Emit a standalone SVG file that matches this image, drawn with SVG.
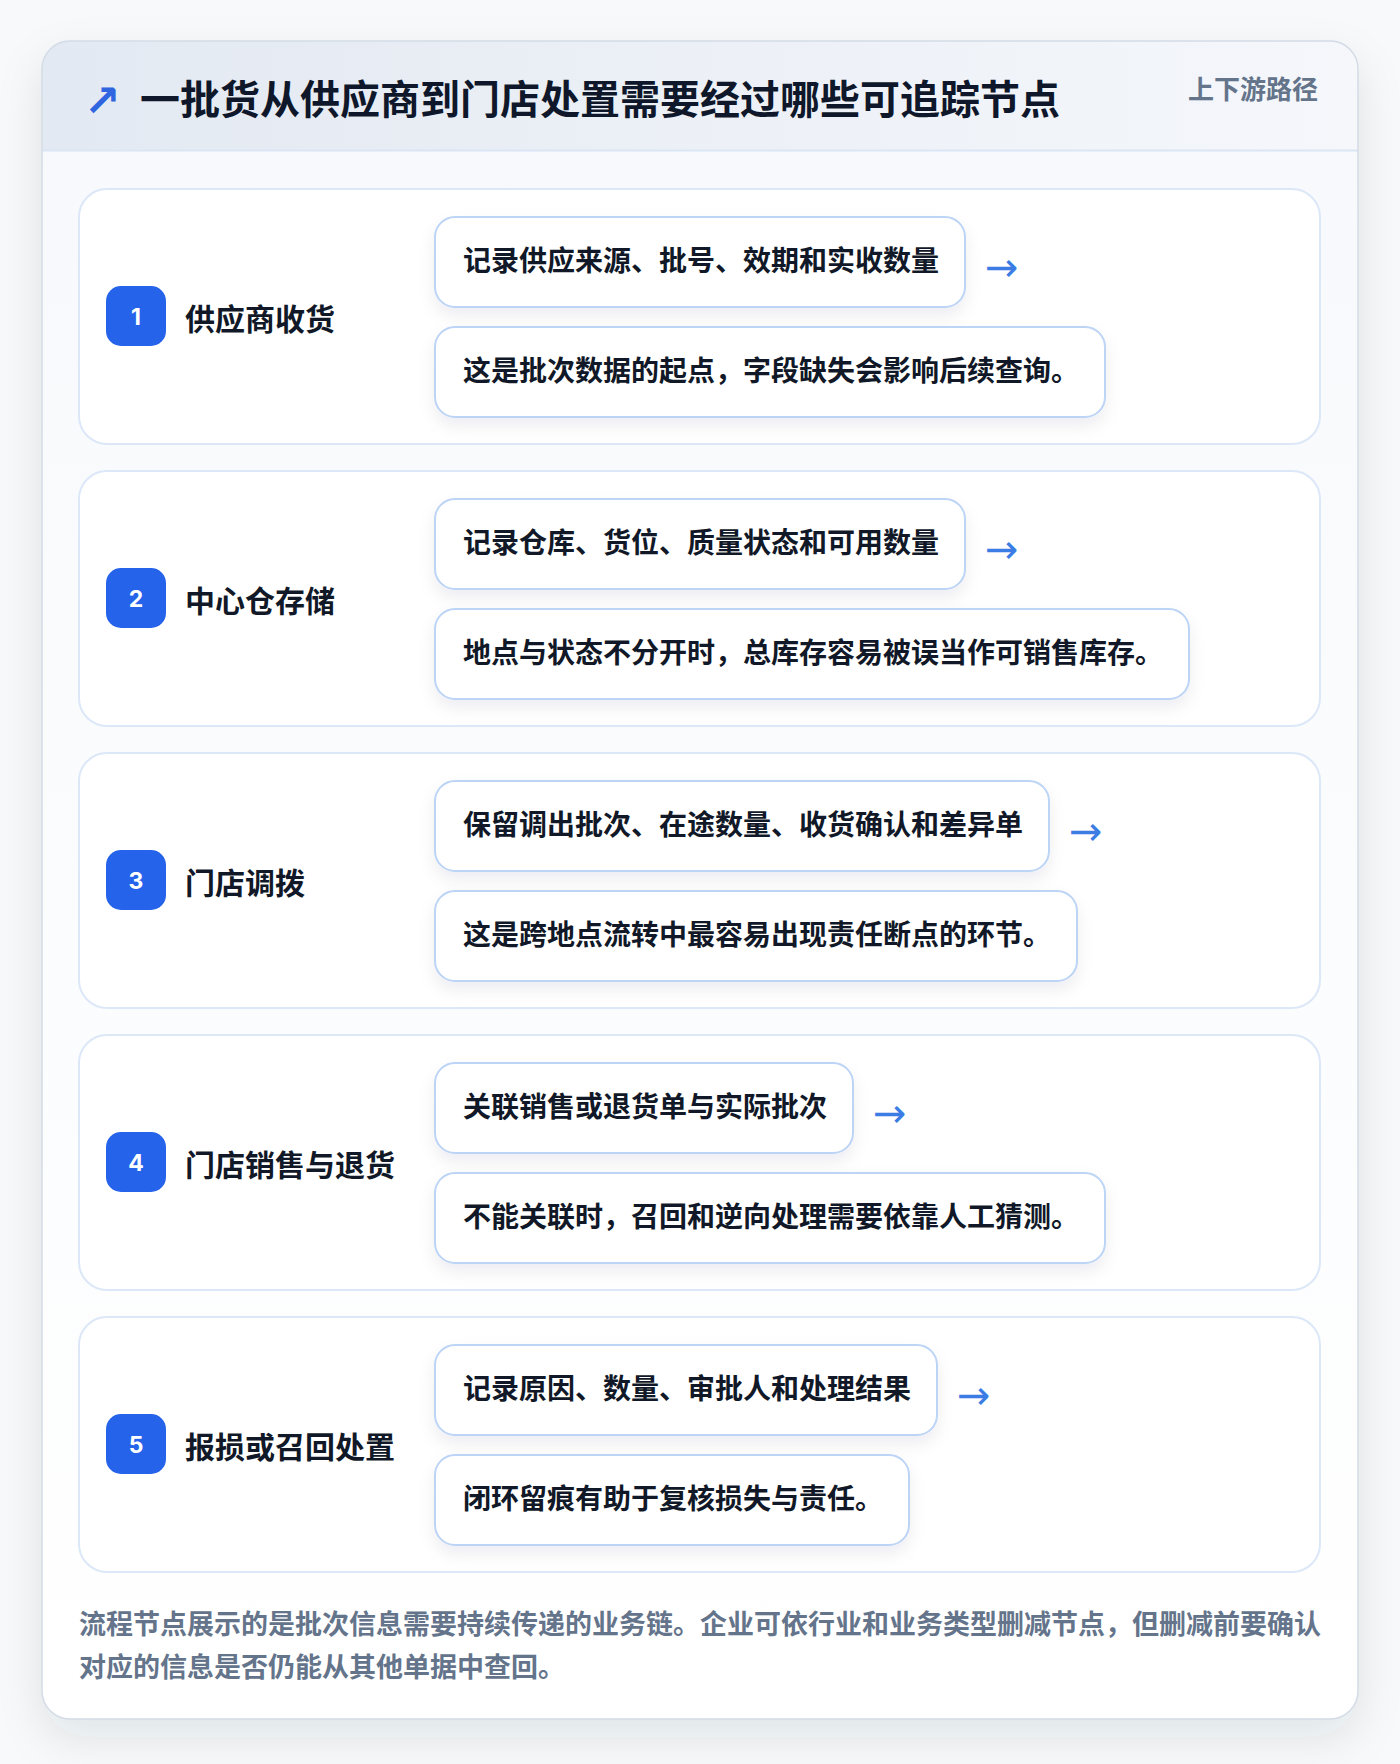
<svg xmlns="http://www.w3.org/2000/svg" width="1400" height="1764" viewBox="0 0 1400 1764">
<defs>
<style>
.t{font-family:"Noto Sans CJK SC","Noto Sans",sans-serif;font-weight:700}
.title{font-size:40px;fill:#0f172a}
.tag{font-size:26px;fill:#64748b}
.card{fill:#ffffff;stroke:#dce8f8;stroke-width:2}
.badge{fill:#2563eb}
.num{font-family:"Inter","Liberation Sans",sans-serif;font-weight:700;font-size:23px;fill:#ffffff}
.label{font-size:30px;fill:#111827}
.box{fill:#ffffff;stroke:#bcd4f5;stroke-width:2}
.btext{font-size:28px;fill:#111827}
.arrow{font-family:"DejaVu Sans",sans-serif;font-size:40px;fill:#3b7de4}
.foot{font-size:27px;fill:#64748b}
</style>
<linearGradient id="hdr" x1="0" y1="0" x2="1" y2="0">
<stop offset="0" stop-color="#e3e9f2"/>
<stop offset="1" stop-color="#f5f7fb"/>
</linearGradient>
<linearGradient id="body" x1="0" y1="0" x2="0" y2="1">
<stop offset="0" stop-color="#f7f9fc"/>
<stop offset="1" stop-color="#ffffff"/>
</linearGradient>
<clipPath id="cardclip"><rect x="42" y="41" width="1316" height="1678" rx="28"/></clipPath>
<filter id="sh" x="-10%" y="-10%" width="120%" height="120%">
<feDropShadow dx="0" dy="18" stdDeviation="22" flood-color="#1e293b" flood-opacity="0.10"/>
</filter>
<filter id="bsh" x="-10%" y="-20%" width="120%" height="160%">
<feDropShadow dx="0" dy="8" stdDeviation="8" flood-color="#1e293b" flood-opacity="0.07"/>
</filter>
</defs>
<rect x="0" y="0" width="1400" height="1764" fill="#f8f9fb"/>
<g id="frame">
<rect x="42" y="41" width="1316" height="1678" rx="28" fill="#ffffff" filter="url(#sh)"/>
<g clip-path="url(#cardclip)">
<rect x="42" y="151" width="1316" height="1568" fill="url(#body)"/>
<rect x="42" y="41" width="1316" height="110" fill="url(#hdr)"/>
<line x1="42" y1="150.5" x2="1358" y2="150.5" stroke="#dbe6f5" stroke-width="2"/>
</g>
<rect x="42" y="41" width="1316" height="1678" rx="28" fill="none" stroke="#d3dbe6" stroke-width="1.5"/>
</g>
<g id="header">
<text x="84" y="116" style="font-family:'DejaVu Sans',sans-serif;font-size:44px;font-weight:700;fill:#2f66e0">↗</text>
<text class="t title" x="140" y="114">一批货从供应商到门店处置需要经过哪些可追踪节点</text>
<text class="t tag" x="1318" y="99" text-anchor="end">上下游路径</text>
</g>
<g id="step1">
<rect class="card" x="79" y="189" width="1241" height="255" rx="28"/>
<rect class="badge" x="106" y="286" width="60" height="60" rx="15"/>
<text class="num" x="136" y="325" text-anchor="middle">1</text>
<text class="t label" x="185" y="330">供应商收货</text>
<rect class="box" x="435" y="217" width="530" height="90" rx="20" filter="url(#bsh)"/>
<text class="t btext" x="463" y="271">记录供应来源、批号、效期和实收数量</text>
<rect class="box" x="435" y="327" width="670" height="90" rx="20" filter="url(#bsh)"/>
<text class="t btext" x="463" y="381">这是批次数据的起点，字段缺失会影响后续查询。</text>
</g>
<g id="step2">
<rect class="card" x="79" y="471" width="1241" height="255" rx="28"/>
<rect class="badge" x="106" y="568" width="60" height="60" rx="15"/>
<text class="num" x="136" y="607" text-anchor="middle">2</text>
<text class="t label" x="185" y="612">中心仓存储</text>
<rect class="box" x="435" y="499" width="530" height="90" rx="20" filter="url(#bsh)"/>
<text class="t btext" x="463" y="553">记录仓库、货位、质量状态和可用数量</text>
<rect class="box" x="435" y="609" width="754" height="90" rx="20" filter="url(#bsh)"/>
<text class="t btext" x="463" y="663">地点与状态不分开时，总库存容易被误当作可销售库存。</text>
</g>
<g id="step3">
<rect class="card" x="79" y="753" width="1241" height="255" rx="28"/>
<rect class="badge" x="106" y="850" width="60" height="60" rx="15"/>
<text class="num" x="136" y="889" text-anchor="middle">3</text>
<text class="t label" x="185" y="894">门店调拨</text>
<rect class="box" x="435" y="781" width="614" height="90" rx="20" filter="url(#bsh)"/>
<text class="t btext" x="463" y="835">保留调出批次、在途数量、收货确认和差异单</text>
<rect class="box" x="435" y="891" width="642" height="90" rx="20" filter="url(#bsh)"/>
<text class="t btext" x="463" y="945">这是跨地点流转中最容易出现责任断点的环节。</text>
</g>
<g id="step4">
<rect class="card" x="79" y="1035" width="1241" height="255" rx="28"/>
<rect class="badge" x="106" y="1132" width="60" height="60" rx="15"/>
<text class="num" x="136" y="1171" text-anchor="middle">4</text>
<text class="t label" x="185" y="1176">门店销售与退货</text>
<rect class="box" x="435" y="1063" width="418" height="90" rx="20" filter="url(#bsh)"/>
<text class="t btext" x="463" y="1117">关联销售或退货单与实际批次</text>
<rect class="box" x="435" y="1173" width="670" height="90" rx="20" filter="url(#bsh)"/>
<text class="t btext" x="463" y="1227">不能关联时，召回和逆向处理需要依靠人工猜测。</text>
</g>
<g id="step5">
<rect class="card" x="79" y="1317" width="1241" height="255" rx="28"/>
<rect class="badge" x="106" y="1414" width="60" height="60" rx="15"/>
<text class="num" x="136" y="1453" text-anchor="middle">5</text>
<text class="t label" x="185" y="1458">报损或召回处置</text>
<rect class="box" x="435" y="1345" width="502" height="90" rx="20" filter="url(#bsh)"/>
<text class="t btext" x="463" y="1399">记录原因、数量、审批人和处理结果</text>
<rect class="box" x="435" y="1455" width="474" height="90" rx="20" filter="url(#bsh)"/>
<text class="t btext" x="463" y="1509">闭环留痕有助于复核损失与责任。</text>
</g>
<g id="connectors">
<text class="arrow" x="985" y="281">→</text>
<text class="arrow" x="985" y="563">→</text>
<text class="arrow" x="1069" y="845">→</text>
<text class="arrow" x="873" y="1127">→</text>
<text class="arrow" x="957" y="1409">→</text>
</g>
<g id="footer">
<text class="t foot" x="79" y="1634">流程节点展示的是批次信息需要持续传递的业务链。企业可依行业和业务类型删减节点，但删减前要确认</text>
<text class="t foot" x="79" y="1677">对应的信息是否仍能从其他单据中查回。</text>
</g>
</svg>
